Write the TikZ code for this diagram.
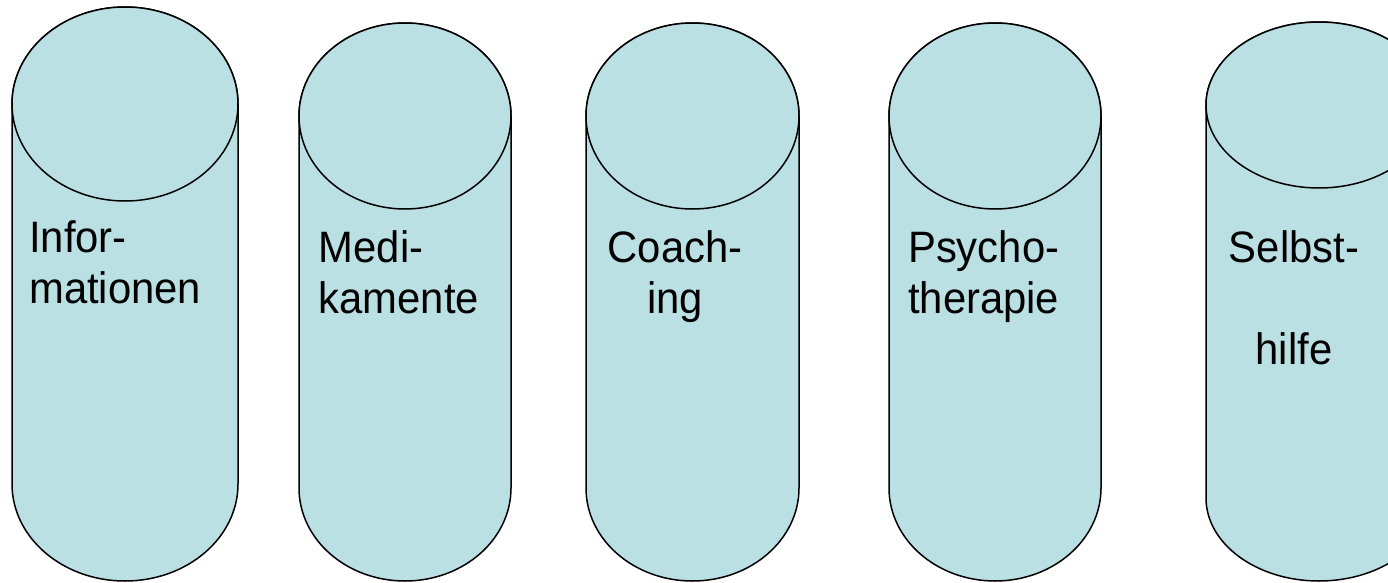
\documentclass[tikz,border=0pt]{standalone}
\usepackage{fontspec}
\setmainfont[FakeStretch=0.95]{Liberation Sans}
\definecolor{cylfill}{HTML}{BBE0E3}
\tikzset{
  cylstyle/.style={fill=cylfill, draw=black, line width=1.5pt},
  lbl/.style={inner sep=0pt, font=\fontsize{44}{51}\selectfont, text=black},
}
\newcommand\drawcyl[5]{%
  \filldraw[cylstyle] (#1-#2,#3) -- (#1-#2,#4)
    arc[start angle=180, end angle=360, x radius=#2, y radius=#5]
    -- (#1+#2,#3)
    arc[start angle=0, end angle=180, x radius=#2, y radius=#5] -- cycle;
  \filldraw[cylstyle] (#1,#3) ellipse[x radius=#2, y radius=#5];
}
\begin{document}
\begin{tikzpicture}[x=1pt,y=1pt]
\useasboundingbox (0,0) rectangle (1388,582);
\clip (0,0) rectangle (1388,582);
\fill[white] (0,0) rectangle (1388,582);
% cylinders: center x, x radius, top-ellipse center y, bottom-ellipse center y, y radius
\drawcyl{125}{113}{478}{98}{97}
\drawcyl{405}{106}{466}{94}{93}
\drawcyl{692.5}{106.5}{466}{94}{93}
\drawcyl{995}{106}{466}{94}{93}
\drawcyl{1319}{113}{477}{84}{83}
% labels
\node[lbl, anchor=base west] (info1) at (29,330) {Infor-};
\node[lbl, anchor=base west] (info2) at (29,279) {mationen};
\node[lbl, anchor=base west] (medi1) at (318.5,320) {Medi-};
\node[lbl, anchor=base west] (medi2) at (318.5,269) {kamente};
\node[lbl, anchor=base] (coach1) at (675,320) {Coach-};
\node[lbl, anchor=base] (coach2) at (675,269) {ing};
\node[lbl, anchor=base west] (psych1) at (908,320) {Psycho-};
\node[lbl, anchor=base west] (psych2) at (908,269) {therapie};
\node[lbl, anchor=base] (selbst1) at (1294,320) {Selbst-};
\node[lbl, anchor=base] (selbst2) at (1294,218) {hilfe};
\end{tikzpicture}
\end{document}
